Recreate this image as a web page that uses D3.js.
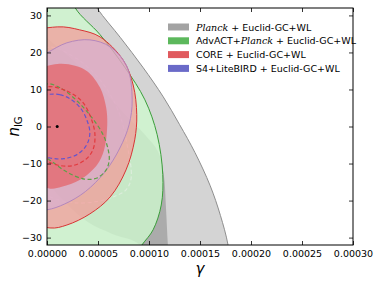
<!DOCTYPE html>
<html>
<head>
<meta charset="utf-8">
<script src="https://cdn.jsdelivr.net/npm/d3@7"></script>
<style>
  body { margin: 0; background: #fff; }
  svg text { font-family: "DejaVu Sans", sans-serif; }
</style>
</head>
<body>
<div class="chart"></div>
<script>
// gamma values are stored in units of 1e-5
const G = 1e-5;

const xTicks = [0, 0.00005, 0.0001, 0.00015, 0.0002, 0.00025, 0.0003];
const yTicks = [-30, -20, -10, 0, 10, 20, 30];

// contour outlines: [gamma/1e-5, n_IG]
const planck95 = [[4.9, 32], [7.2, 24], [9.4, 16], [11.4, 8], [13.0, 0.5], [14.5, -7], [16.0, -16],
    [17.0, -24], [17.75, -32], [18.3, -44], [-3, -44], [-3, 40], [3.2, 40]];
const planck68 = [[-1.2, 27.5], [0, 24], [2.25, 18.6], [5.2, 10.5], [7.65, 3.2], [9.6, -2.2], [10.9, -6.8],
    [11.45, -13.1], [11.65, -21.2], [11.85, -32], [12.05, -40], [9.6, -38.7], [9.1, -32], [6.4, -29],
    [4.0, -25.8], [1.95, -20.9], [0, -14.9], [-1.2, -10.4]];
const advact95 = [[2.75, 32.1], [5.2, 24.8], [7.65, 15.9], [9.6, 7.2], [10.8, -2.2], [11.35, -13],
    [11.2, -21.2], [10.4, -27.9], [9.3, -32], [7.9, -37.5], [-2.6, -38.7], [-2.6, 39.6], [1.8, 39.6]];
const core95 = [[1.0, 26.9], [3.2, 26.1], [5.2, 24.2], [7.45, 18], [8.45, 11.2], [8.8, 3.2], [8.6, -3.6],
    [7.75, -11.7], [6.2, -19], [4.2, -23.6], [1.95, -26.6], [0.3, -27.4], [-3, -24], [-6, -12],
    [-6.8, 0], [-6, 12], [-3, 24]];
const core68 = [[1.0, 16.9], [2.75, 16.4], [4.0, 14.8], [5.2, 10.5], [5.8, 5.1], [5.9, 0], [5.6, -6.3],
    [4.9, -10.4], [3.25, -14.4], [1.45, -16.3], [0.3, -16.8], [-2, -14], [-4, -8], [-4.3, 0],
    [-4, 8], [-2, 14]];
const s495 = [[0, 19.9], [1.95, 22.6], [4.2, 23.4], [6.2, 21.5], [7.85, 16.1], [8.35, 7.2], [8.05, 0.5],
    [7.15, -5.8], [5.7, -12.2], [3.75, -17.6], [1.75, -20.9], [0, -22.5], [-2, -22.5], [-4, -17],
    [-5, -5], [-4, 8], [-2, 17]];
// dashed outlines
const dashFaint = [[0, 21.3], [2.75, 18.6], [5.2, 12.6], [6.95, 4.5], [7.85, -4.9], [8.25, -13.9],
    [7.75, -17.1], [6.75, -18.7], [5.2, -20.1], [2.75, -20.6], [0, -18.5], [-2, -12], [-3, 0], [-2, 12]];
const dashAdv = [[0, 11.5], [1.45, 10.2], [2.95, 6.9], [4.4, 2.4], [5.5, -2.2], [6.0, -6.3], [6.1, -9],
    [5.8, -11.7], [4.9, -13.9], [3.65, -14.2], [1.95, -12.3], [0.5, -9.5], [0, -8.5], [-1.5, -4],
    [-2, 3], [-1.5, 8]];
const dashCore = [[0, 10.7], [1.95, 9.6], [3.45, 6.7], [4.3, 2.4], [4.7, -2.2], [4.5, -6.3], [3.75, -9],
    [2.45, -10.6], [1.0, -10.4], [0, -9.3], [-1.5, -7], [-2.5, 0], [-1.5, 8]];
const dashS4 = [[0, 8.6], [1.25, 8.6], [2.25, 7.5], [3.25, 5.1], [3.9, 1.8], [4.2, -1.7], [3.9, -4.9],
    [3.05, -7.4], [1.65, -8.7], [0.3, -8.5], [-1.5, -7], [-2.5, 0], [-1.5, 7]];

const fiducial = [[1.0, 0]];

const legendLabels = [
    [["Planck", true], [" + Euclid-GC+WL", false]],
    [["AdvACT+", false], ["Planck", true], [" + Euclid-GC+WL", false]],
    [["CORE + Euclid-GC+WL", false]],
    [["S4+LiteBIRD + Euclid-GC+WL", false]]
];
const legendColors = ["#a3a3a3", "#5cb85c", "#e05a5e", "#6a6ac8"];

const width = 379, height = 285;
const margin = {top: 8, right: 26, bottom: 40, left: 47};

const svg = d3.select(".chart").append("svg")
    .attr("width", width)
    .attr("height", height);

const x = d3.scaleLinear().domain([0, 0.0003]).range([margin.left, width - margin.right]);
const y = d3.scaleLinear().domain([-32, 32]).range([height - margin.bottom, margin.top]);

svg.append("clipPath").attr("id", "plot")
    .append("rect")
    .attr("x", x(0)).attr("y", y(32))
    .attr("width", x(0.0003) - x(0)).attr("height", y(-32) - y(32));

const line = d3.line()
    .x(d => x(d[0] * G))
    .y(d => y(d[1]))
    .curve(d3.curveCatmullRomClosed.alpha(0.5));

const plot = svg.append("g").attr("clip-path", "url(#plot)");

function region(pts, fill, stroke, sw) {
    plot.append("path")
        .attr("d", line(pts))
        .attr("fill", fill)
        .attr("stroke", stroke || "none")
        .attr("stroke-width", sw || 1);
}

function dashed(pts, color, op) {
    plot.append("path")
        .attr("d", line(pts))
        .attr("fill", "none")
        .attr("stroke", color)
        .attr("stroke-opacity", op || 1)
        .attr("stroke-width", 1.2)
        .attr("stroke-dasharray", "4,2.5");
}

region(planck95, "#d4d4d4", "#8e8e8e", 1);
region(planck68, "#ababab");
region(advact95, "rgba(206,248,206,0.8)", "#3a9e3a", 1);
dashed(dashFaint, "#f4f4f4", 0.45);
region(core95, "rgba(252,136,142,0.6)", "#d83434", 1);
region(s495, "rgba(210,175,220,0.55)", "#b487bd", 1);
region(core68, "rgba(228,100,105,0.75)");
dashed(dashAdv, "#5f9f48");
dashed(dashCore, "#e23a3e");
dashed(dashS4, "#6655cc");

plot.selectAll("circle.fid")
    .data(fiducial)
    .enter().append("circle")
    .attr("class", "fid")
    .attr("cx", d => x(d[0] * G))
    .attr("cy", d => y(d[1]))
    .attr("r", 1.5)
    .attr("fill", "#000");

// axes, ticks inward on all four sides
const fmt = d3.format(".5f");
svg.append("g")
    .attr("transform", "translate(0," + y(-32) + ")")
    .call(d3.axisBottom(x).tickValues(xTicks).tickFormat(fmt).tickSizeInner(-4).tickSizeOuter(0).tickPadding(5));
svg.append("g")
    .attr("transform", "translate(0," + y(32) + ")")
    .call(d3.axisTop(x).tickValues(xTicks).tickFormat("").tickSizeInner(-4).tickSizeOuter(0));
svg.append("g")
    .attr("transform", "translate(" + x(0) + ",0)")
    .call(d3.axisLeft(y).tickValues(yTicks).tickSizeInner(-4).tickSizeOuter(0).tickPadding(5));
svg.append("g")
    .attr("transform", "translate(" + x(0.0003) + ",0)")
    .call(d3.axisRight(y).tickValues(yTicks).tickFormat("").tickSizeInner(-4).tickSizeOuter(0));

svg.selectAll(".domain").remove();
svg.selectAll(".tick line").attr("stroke", "#000").attr("stroke-width", 0.8);
svg.selectAll(".tick text")
    .attr("font-family", "DejaVu Sans, sans-serif")
    .attr("font-size", 9.5)
    .attr("fill", "#000");

svg.append("rect")
    .attr("x", x(0)).attr("y", y(32))
    .attr("width", x(0.0003) - x(0)).attr("height", y(-32) - y(32))
    .attr("fill", "none")
    .attr("stroke", "#000")
    .attr("stroke-width", 1);

// axis labels
svg.append("text")
    .attr("x", (x(0) + x(0.0003)) / 2)
    .attr("y", 274)
    .attr("text-anchor", "middle")
    .attr("font-family", "DejaVu Serif, serif")
    .attr("font-style", "italic")
    .attr("font-size", 15)
    .text("γ");

const yl = svg.append("text")
    .attr("transform", "translate(19," + y(0) + ") rotate(-90)")
    .attr("text-anchor", "middle")
    .attr("font-family", "DejaVu Serif, serif")
    .attr("font-size", 15);
yl.append("tspan").attr("font-style", "italic").text("n");
yl.append("tspan").attr("font-size", 10).attr("dy", 3).text("IG");

// legend
const leg = svg.append("g").attr("transform", "translate(168,27)");
legendLabels.forEach((parts, i) => {
    const row = leg.append("g").attr("transform", "translate(0," + i * 13.8 + ")");
    row.append("rect")
        .attr("x", 0).attr("y", -3.5)
        .attr("width", 21).attr("height", 7)
        .attr("fill", legendColors[i]);
    const t = row.append("text")
        .attr("x", 28).attr("y", 3.5)
        .attr("font-size", 9.5)
        .attr("fill", "#000");
    parts.forEach(p => {
        const s = t.append("tspan").text(p[0]);
        if (p[1]) s.attr("font-family", "DejaVu Serif, serif").attr("font-style", "italic");
    });
});
</script>
</body>
</html>
